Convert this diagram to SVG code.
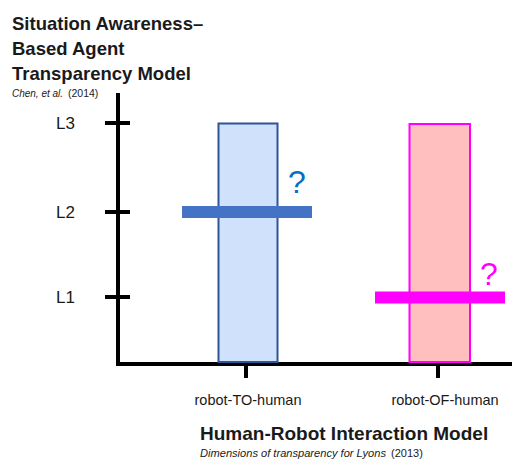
<svg xmlns="http://www.w3.org/2000/svg" width="512" height="460" viewBox="0 0 512 460">
<style>
.ax{stroke:#000;stroke-width:4;fill:none}
.tk{stroke:#000;stroke-width:4}
.t{font-family:"Liberation Sans",Arial,sans-serif;fill:#1a1a1a}
.b{font-weight:bold}
.i{font-style:italic}
</style>
<rect width="512" height="460" fill="#fff"/>
<g id="title">
<text class="t b" x="12" y="30" font-size="18.5">Situation Awareness–</text>
<text class="t b" x="12" y="55" font-size="18.5">Based Agent</text>
<text class="t b" x="12" y="80" font-size="18.5">Transparency Model</text>
<text class="t" x="12" y="97" font-size="10"><tspan class="i" textLength="51">Chen, et al.</tspan><tspan x="68" font-size="10.5">(2014)</tspan></text>
</g>
<g id="axes">
<path class="ax" d="M118,93 V364 H512"/>
<line class="tk" x1="105" y1="123" x2="130" y2="123"/>
<line class="tk" x1="105" y1="212" x2="130" y2="212"/>
<line class="tk" x1="105" y1="297" x2="130" y2="297"/>
<line class="tk" x1="246" y1="364" x2="246" y2="378"/>
<line class="tk" x1="438" y1="364" x2="438" y2="378"/>
</g>
<g id="levels">
<text class="t" x="56" y="129" font-size="17">L3</text>
<text class="t" x="56" y="218" font-size="17">L2</text>
<text class="t" x="56" y="303" font-size="17">L1</text>
</g>
<g id="robot-to-human">
<rect x="218.5" y="123.5" width="59" height="238.5" fill="#d0e1fc" stroke="#2f5597" stroke-width="2"/>
<rect x="182" y="206" width="130" height="12" fill="#4472c4"/>
<text x="288" y="193" font-family="Liberation Sans,Arial,sans-serif" font-size="32" fill="#0070c0">?</text>
<text class="t" x="248" y="405" font-size="14.5" text-anchor="middle">robot-TO-human</text>
</g>
<g id="robot-of-human">
<rect x="409.5" y="124" width="60.5" height="238" fill="#ffbfbf" stroke="#ff00ff" stroke-width="2"/>
<rect x="375" y="291.5" width="130" height="12" fill="#ff00ff"/>
<text x="480" y="285" font-family="Liberation Sans,Arial,sans-serif" font-size="32" fill="#ff00ff">?</text>
<text class="t" x="445" y="405" font-size="14.5" text-anchor="middle">robot-OF-human</text>
</g>
<g id="hri">
<text class="t b" x="200" y="440" font-size="19">Human-Robot Interaction Model</text>
<text class="t" x="200" y="457" font-size="10.5"><tspan class="i" textLength="186" lengthAdjust="spacingAndGlyphs">Dimensions of transparency for Lyons</tspan><tspan x="391" font-size="11">(2013)</tspan></text>
</g>
</svg>
